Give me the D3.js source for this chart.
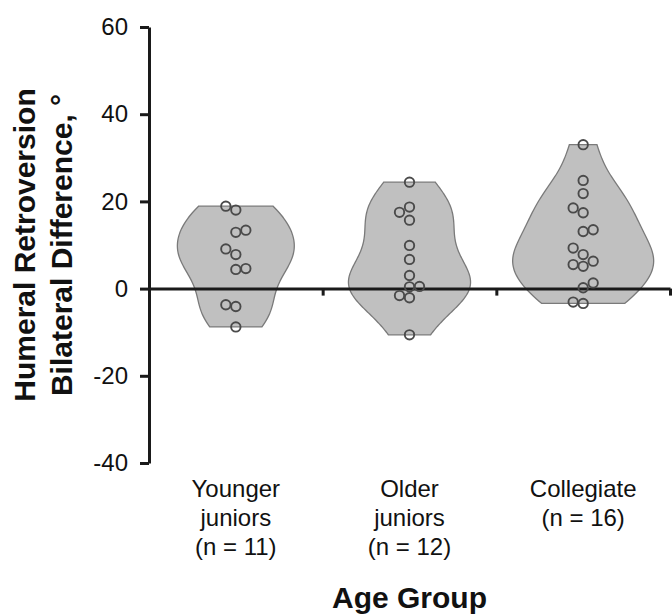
<!DOCTYPE html>
<html>
<head>
<meta charset="utf-8">
<script src="https://cdn.jsdelivr.net/npm/d3@7"></script>
<style>
  html, body { margin: 0; padding: 0; background: #fff; }
  svg { display: block; font-family: "Liberation Sans", Arial, Helvetica, sans-serif; }
</style>
</head>
<body>
<div id="chart"></div>
<script>
// groups and their raw values (degrees)
const groups = ['Younger juniors', 'Older juniors', 'Collegiate'];
const groupLabels = [
    ['Younger', 'juniors', '(n = 11)'],
    ['Older', 'juniors', '(n = 12)'],
    ['Collegiate', '(n = 16)']
];
const youngerJuniors = [18.9, 18.0, 13.4, 12.9, 9.1, 7.8, 4.6, 4.4, -3.7, -4.1, -8.8];
const olderJuniors = [24.4, 18.7, 17.5, 15.7, 9.9, 6.7, 3.0, 0.5, 0.4, -1.6, -2.1, -10.6];
const collegiate = [33.0, 24.8, 21.8, 18.5, 17.4, 13.5, 13.1, 9.3, 7.8, 6.3, 5.5, 5.1, 1.3, 0.2, -3.1, -3.4];
const yTicks = [-40, -20, 0, 20, 40, 60];

const seriesValues = [youngerJuniors, olderJuniors, collegiate];

const width = 672, height = 614;
const margin = { left: 149, right: 2, top: 27, bottom: 151 };

const svg = d3.select('#chart').append('svg')
    .attr('width', width).attr('height', height);

const y = d3.scaleLinear().domain([-40, 60]).range([height - margin.bottom, margin.top]);
const x = d3.scaleBand().domain(groups).range([margin.left, width - margin.right]).padding(0);
const xEdges = d3.scaleLinear().domain([0, groups.length]).range(x.range());

// gaussian kde, Silverman bandwidth, cut at data min / max
function kde(values) {
    const sorted = values.slice().sort(d3.ascending);
    const sd = d3.deviation(sorted);
    const iqr = d3.quantile(sorted, 0.75) - d3.quantile(sorted, 0.25);
    const h = 0.9 * Math.min(sd, iqr / 1.34) * Math.pow(sorted.length, -0.2);
    const [lo, hi] = d3.extent(sorted);
    const steps = 80;
    return d3.range(steps + 1).map(i => {
        const v = lo + (hi - lo) * i / steps;
        const dens = d3.sum(sorted, s => Math.exp(-0.5 * ((v - s) / h) ** 2)) / (h * Math.sqrt(2 * Math.PI) * sorted.length);
        return [v, dens];
    });
}

// simple beeswarm: ascending values, alternate side when a point has to move
function swarm(values, cx) {
    const step = 10, minDist = 9;
    const placed = [];
    let side = -1;
    values.slice().sort(d3.ascending).forEach(v => {
        const py = y(v);
        const offsets = [0];
        for (let k = 1; k <= 4; k++) offsets.push(side * k * step, -side * k * step);
        for (const off of offsets) {
            const px = cx + off;
            const hit = placed.some(p => Math.hypot(p.x - px, p.y - py) < minDist);
            if (!hit) {
                placed.push({ x: px, y: py, v });
                if (off !== 0) side = -side;
                break;
            }
        }
    });
    return placed;
}

const maxHalf = d3.scaleSqrt()
    .domain([0, d3.max(seriesValues, s => s.length)])
    .range([0, x.bandwidth() * 0.406]);

// violins
const gViolin = svg.append('g');
groups.forEach((g, i) => {
    const dens = kde(seriesValues[i]);
    const cx = x(g) + x.bandwidth() / 2;
    const w = d3.scaleLinear().domain([0, d3.max(dens, d => d[1])]).range([0, maxHalf(seriesValues[i].length)]);
    const area = d3.area()
        .y(d => y(d[0]))
        .x0(d => cx - w(d[1]))
        .x1(d => cx + w(d[1]))
        .curve(d3.curveBasis);
    gViolin.append('path')
        .datum(dens)
        .attr('d', area)
        .attr('fill', '#c0c0c0')
        .attr('stroke', '#7a7a7a')
        .attr('stroke-width', 1.3);
});

// axes
const axisColor = '#1a1a1a';
const yAxis = svg.append('g')
    .attr('transform', `translate(${margin.left},0)`)
    .call(d3.axisLeft(y).tickValues(yTicks).tickSize(9).tickSizeOuter(0).tickPadding(12)
        .tickFormat(d => String(d)));

const xAxis = svg.append('g')
    .attr('transform', `translate(0,${y(0)})`)
    .call(d3.axisBottom(xEdges).tickValues(d3.range(1, groups.length + 1)).tickSize(7).tickSizeOuter(0).tickFormat(''));

[yAxis, xAxis].forEach(a => {
    a.select('.domain').attr('stroke', axisColor).attr('stroke-width', 3);
    a.selectAll('.tick line').attr('stroke', axisColor).attr('stroke-width', 3);
});
yAxis.selectAll('.tick text')
    .style('font-size', '24px').attr('fill', '#111')
    .style('font-family', '"Liberation Sans", Arial, sans-serif');

// points
const gPts = svg.append('g');
groups.forEach((g, i) => {
    const cx = x(g) + x.bandwidth() / 2;
    gPts.selectAll(null).data(swarm(seriesValues[i], cx)).enter().append('circle')
        .attr('cx', d => d.x).attr('cy', d => d.y).attr('r', 4.7)
        .attr('fill', 'none')
        .attr('stroke', '#4a4a4a')
        .attr('stroke-width', 1.9);
});

// category labels
groups.forEach((g, i) => {
    const t = svg.append('text')
        .attr('text-anchor', 'middle')
        .attr('font-size', 24).attr('fill', '#111')
        .attr('x', x(g) + x.bandwidth() / 2)
        .attr('y', 497);
    groupLabels[i].forEach((line, j) => {
        t.append('tspan')
            .attr('x', x(g) + x.bandwidth() / 2)
            .attr('dy', j === 0 ? 0 : 29)
            .text(line);
    });
});

// x title
svg.append('text')
    .attr('x', (margin.left + width - margin.right) / 2)
    .attr('y', 608)
    .attr('text-anchor', 'middle')
    .attr('font-size', 30).attr('font-weight', 700).attr('fill', '#111')
    .text('Age Group');

// y title (two lines)
const yMid = (y.range()[0] + y.range()[1]) / 2;
['Humeral Retroversion', 'Bilateral Difference, °'].forEach((line, j) => {
    svg.append('text')
        .attr('transform', `translate(${35 + j * 37},${yMid}) rotate(-90)`)
        .attr('text-anchor', 'middle')
        .attr('font-size', 30).attr('font-weight', 700).attr('fill', '#111')
        .text(line);
});
</script>
</body>
</html>
